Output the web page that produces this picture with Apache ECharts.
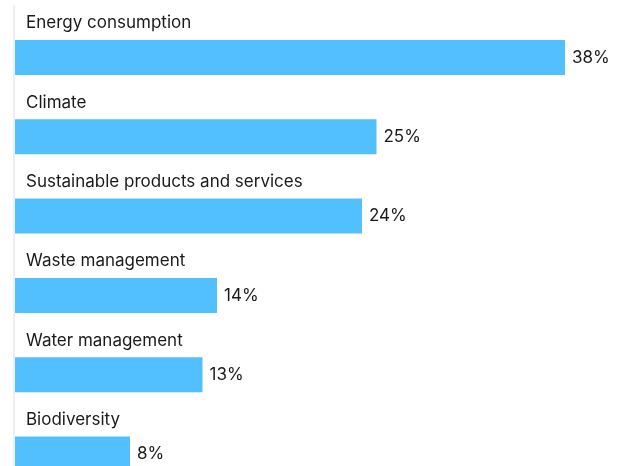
<!DOCTYPE html>
<html>
<head>
<meta charset="utf-8">
<script src="https://cdn.jsdelivr.net/npm/echarts@6/dist/echarts.min.js"></script>
<style>
  html, body { margin: 0; padding: 0; background: #fff; }
  #chart { width: 622px; height: 466px; }
</style>
</head>
<body>
<div id="chart"></div>
<script>
// Share of respondents naming each sustainability topic (%)
const topics = [
  'Energy consumption',
  'Climate',
  'Sustainable products and services',
  'Waste management',
  'Water management',
  'Biodiversity'
];
const shares = [38, 25, 24, 14, 13, 8];

const FONT = 'Inter, "Noto Sans", sans-serif';
const chart = echarts.init(document.getElementById('chart'), null, { renderer: 'canvas' });

chart.setOption({
  animation: false,
  // the last row runs past the bottom edge of the canvas
  grid: { left: 14, right: 28, top: 6, height: 476, outerBoundsMode: 'none', containLabel: false },
  xAxis: {
    type: 'value',
    min: 0,
    max: 40,
    show: false
  },
  yAxis: {
    type: 'category',
    data: topics,
    inverse: true,
    axisLine: { show: true, lineStyle: { color: '#eeeeee', width: 2 } },
    axisTick: { show: false },
    axisLabel: {
      inside: true,
      margin: 12,
      // topic name sits on its own line above the bar; the empty second line lifts it
      formatter: (name) => '{n|' + name + '}\n{s| }',
      rich: {
        n: {
          color: '#1a1a1a',
          fontFamily: FONT,
          fontSize: 17,
          lineHeight: 20
        },
        s: {
          fontSize: 10,
          lineHeight: 45
        }
      }
    },
    z: 5
  },
  series: [
    {
      // spacer that pushes the visible bar below its topic label
      type: 'bar',
      data: topics.map(() => 0),
      barWidth: 35,
      barGap: '-33%',
      itemStyle: { color: 'rgba(0,0,0,0)' },
      silent: true
    },
    {
      type: 'bar',
      data: shares,
      barWidth: 35,
      itemStyle: { color: '#52bfff' },
      label: {
        show: true,
        position: 'right',
        distance: 7,
        formatter: '{c}%',
        color: '#1a1a1a',
        fontFamily: FONT,
        fontSize: 17
      }
    }
  ]
});
</script>
</body>
</html>
